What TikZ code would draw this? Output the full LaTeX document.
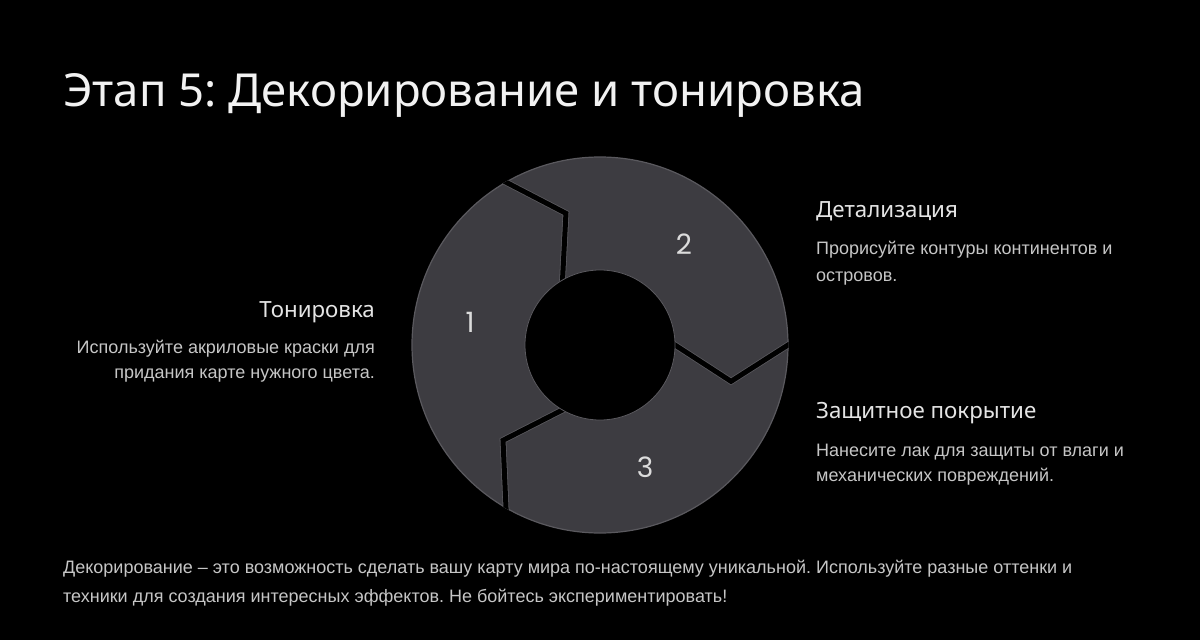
\documentclass[tikz,border=0pt]{standalone}
\usepackage{fontspec}
\setmainfont{Noto Sans}
\newfontfamily\bodyfont{Liberation Sans}
\newfontfamily\numfont{Poppins}
\usetikzlibrary{calc}
\definecolor{bg}{HTML}{000000}
\definecolor{seg}{HTML}{3D3C41}
\definecolor{segedge}{HTML}{5A595E}
\definecolor{titlec}{HTML}{F2F2F2}
\definecolor{headc}{HTML}{E4E4E4}
\definecolor{bodyc}{HTML}{C6C6C6}
\definecolor{numc}{HTML}{DCDCDC}
\frenchspacing
\begin{document}
\begin{tikzpicture}[x=1pt,y=-1pt,
  titletext/.style={text=titlec, font=\frenchspacing\fontsize{45.5}{52}\selectfont, inner sep=0pt},
  headtext/.style={text=headc, font=\fontsize{22.3}{26}\selectfont, inner sep=0pt},
  bodytext/.style={text=bodyc, font=\frenchspacing\bodyfont\fontsize{18}{22}\selectfont, inner sep=0pt},
  numtext/.style={text=numc, font=\numfont\fontsize{28}{30}\selectfont, inner sep=0pt},
  gapedge/.style={draw=segedge, line width=6.6pt},
  gapline/.style={draw=black, line width=5pt},
]
\fill[bg] (0,0) rectangle (1200,640);
\useasboundingbox (0,0) rectangle (1200,640);

\begin{scope}[shift={(600,345)}, yscale=-1]
  \fill[seg, draw=segedge, line width=1.2pt] (0,0) circle (188);
  \begin{scope}
    \clip (0,0) circle (188.6);
    \foreach \t in {0,120,240} {
      \path (\t:188) coordinate (go) (\t-15.5:136) coordinate (gk) (\t:75) coordinate (gi);
      \path[gapedge] ($(go)!-0.2!(gk)$) -- (gk) -- ($(gk)!1.2!(gi)$);
      \path[gapline] ($(go)!-0.2!(gk)$) -- (gk) -- ($(gk)!1.2!(gi)$);
    }
  \end{scope}
  \fill[black, draw=segedge, line width=0.8pt] (0,0) circle (75);
\end{scope}

\node[numtext] (n1) at (470,322) {1};
\node[numtext] (n2) at (684,244) {2};
\node[numtext] (n3) at (645,467) {3};

\node[titletext, anchor=base west] (title) at (63,106) {Этап 5: Декорирование и тонировка};

\node[headtext, anchor=base east] (h1) at (375,317) {Тонировка};
\node[bodytext, anchor=base east] (b1a) at (375,353) {Используйте акриловые краски для};
\node[bodytext, anchor=base east] (b1b) at (375,378) {придания карте нужного цвета.};

\node[headtext, anchor=base west] (h2) at (816,217) {Детализация};
\node[bodytext, anchor=base west] (b2a) at (816,254) {Прорисуйте контуры континентов и};
\node[bodytext, anchor=base west] (b2b) at (816,281) {островов.};

\node[headtext, anchor=base west] (h3) at (816,418) {Защитное покрытие};
\node[bodytext, anchor=base west] (b3a) at (816,456) {Нанесите лак для защиты от влаги и};
\node[bodytext, anchor=base west] (b3b) at (816,481) {механических повреждений.};

\node[bodytext, anchor=base west] (f1) at (63,573) {Декорирование – это возможность сделать вашу карту мира по-настоящему уникальной. Используйте разные оттенки и};
\node[bodytext, anchor=base west] (f2) at (63,602) {техники для создания интересных эффектов. Не бойтесь экспериментировать!};
\end{tikzpicture}
\end{document}
